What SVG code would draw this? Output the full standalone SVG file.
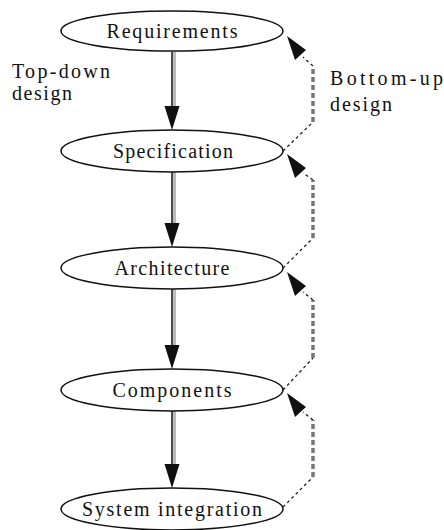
<svg xmlns="http://www.w3.org/2000/svg" width="444" height="530" viewBox="0 0 444 530">
<style>
.node ellipse{fill:#fff;stroke:#111;stroke-width:1.5}
.node text{font-family:"Liberation Serif","Times New Roman",serif;font-size:20px;fill:#111;text-anchor:middle}
.lbl{font-family:"Liberation Serif","Times New Roman",serif;font-size:20px;fill:#111}
.down{stroke:#222;stroke-width:1.6;fill:none}
.shade{stroke:#bbb;stroke-width:3;fill:none}
.diag{stroke:#222;stroke-width:1.3;stroke-dasharray:3 3;fill:none}
.vert{stroke:#777;stroke-width:3.5;stroke-dasharray:5 3;fill:none}
.head{fill:#111}
</style>
<rect width="444" height="530" fill="#fff"/>
<g id="connectors">
  <line class="shade" x1="174.5" y1="52" x2="174.5" y2="108"/>
  <line class="down" x1="172" y1="52" x2="172" y2="110"/>
  <polygon class="head" points="164.5,106 179.5,106 172,130"/>
  <line class="shade" x1="174.5" y1="172" x2="174.5" y2="225"/>
  <line class="down" x1="172" y1="172" x2="172" y2="227"/>
  <polygon class="head" points="164.5,223 179.5,223 172,247"/>
  <line class="shade" x1="174.5" y1="289" x2="174.5" y2="347"/>
  <line class="down" x1="172" y1="289" x2="172" y2="349"/>
  <polygon class="head" points="164.5,345 179.5,345 172,369"/>
  <line class="shade" x1="174.5" y1="411" x2="174.5" y2="466"/>
  <line class="down" x1="172" y1="411" x2="172" y2="468"/>
  <polygon class="head" points="164.5,464 179.5,464 172,488"/>
  <g id="up1">
    <polyline class="diag" points="283,151 313,122"/>
    <line class="vert" x1="313" y1="122" x2="313" y2="66"/>
    <polyline class="diag" points="313,66 303,57"/>
    <polygon class="head" points="287,36 306,50 295,60"/>
  </g>
  <g id="up2">
    <polyline class="diag" points="283,268 313,238"/>
    <line class="vert" x1="313" y1="238" x2="313" y2="180"/>
    <polyline class="diag" points="313,180 303,173"/>
    <polygon class="head" points="287,154 306,168 295,178"/>
  </g>
  <g id="up3">
    <polyline class="diag" points="283,390 313,358"/>
    <line class="vert" x1="313" y1="358" x2="313" y2="300"/>
    <polyline class="diag" points="313,300 303,292"/>
    <polygon class="head" points="287,272 306,286 295,296"/>
  </g>
  <g id="up4">
    <polyline class="diag" points="283,507 313,477"/>
    <line class="vert" x1="313" y1="477" x2="313" y2="420"/>
    <polyline class="diag" points="313,420 303,412"/>
    <polygon class="head" points="287,393 306,407 295,417"/>
  </g>
</g>
<g id="requirements" class="node">
  <ellipse cx="172" cy="31" rx="111" ry="20"/>
  <text x="172" y="38" textLength="131" lengthAdjust="spacing">Requirements</text>
</g>
<g id="specification" class="node">
  <ellipse cx="172" cy="151" rx="111" ry="21"/>
  <text x="173" y="158" textLength="120" lengthAdjust="spacing">Specification</text>
</g>
<g id="architecture" class="node">
  <ellipse cx="172" cy="268" rx="111" ry="21"/>
  <text x="172" y="275" textLength="115" lengthAdjust="spacing">Architecture</text>
</g>
<g id="components" class="node">
  <ellipse cx="172" cy="390" rx="111" ry="21"/>
  <text x="172" y="397" textLength="119" lengthAdjust="spacing">Components</text>
</g>
<g id="system-integration" class="node">
  <ellipse cx="172" cy="509" rx="111" ry="21"/>
  <text x="172" y="516" textLength="180" lengthAdjust="spacing">System integration</text>
</g>
<g id="labels">
  <text class="lbl" x="12" y="78" textLength="98" lengthAdjust="spacing">Top-down</text>
  <text class="lbl" x="12" y="100" textLength="60" lengthAdjust="spacing">design</text>
  <text class="lbl" x="330" y="85" textLength="113" lengthAdjust="spacing">Bottom-up</text>
  <text class="lbl" x="330" y="111" textLength="62" lengthAdjust="spacing">design</text>
</g>
</svg>
